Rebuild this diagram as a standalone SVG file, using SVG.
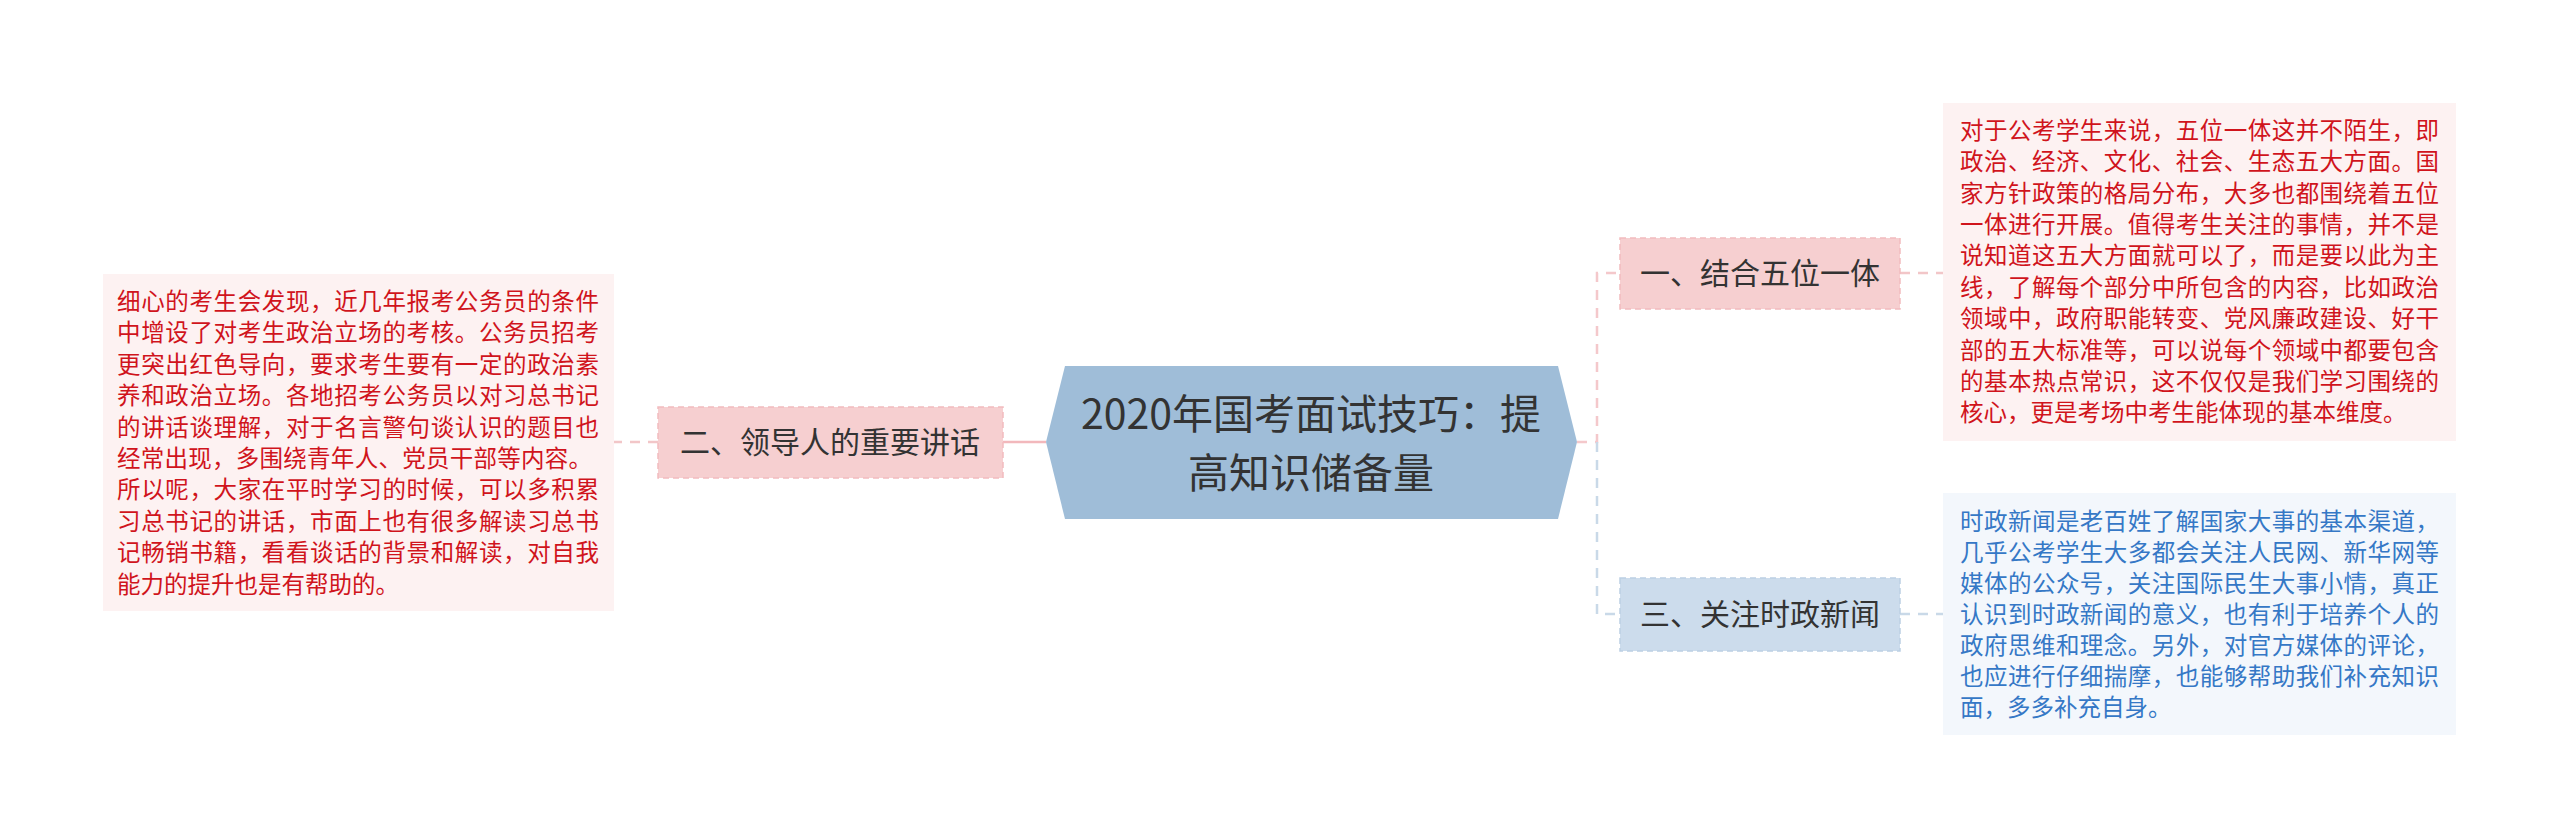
<svg xmlns="http://www.w3.org/2000/svg" width="2560" height="839" viewBox="0 0 2560 839">
<style>
.t{font-family:"Noto Sans CJK SC","Liberation Sans",sans-serif;}
.main{font-size:41px;fill:#333;text-anchor:middle}
.sub{font-size:30px;fill:#333;text-anchor:middle}
.red{font-size:23.5px;fill:#d0141c}
.blue{font-size:23.5px;fill:#3578c6}
</style>
<rect width="2560" height="839" fill="#fff"/>
<g id="connectors" fill="none" stroke-width="2.5">
<path d="M1046 442 H1003" stroke="#f2b8bc"/>
<path d="M658 442 H614" stroke="#f2c6c8" stroke-dasharray="10 8"/>
<path d="M1577 442 H1597 V273 H1620" stroke="#f4c8cb" stroke-dasharray="10 8"/>
<path d="M1597 442 V614 H1620" stroke="#c9d9e8" stroke-dasharray="10 8"/>
<path d="M1900 273 H1943" stroke="#f2c6c8" stroke-dasharray="10 8"/>
<path d="M1900 614 H1943" stroke="#c9d9e8" stroke-dasharray="10 8"/>
</g>
<g id="center">
<polygon points="1046,442 1065,366 1558,366 1577,442 1558,519 1065,519" fill="#9fbdd8"/>
<text class="t main" x="1311" y="429">2020年国考面试技巧：提</text>
<text class="t main" x="1311" y="488">高知识储备量</text>
</g>
<g id="n1">
<rect x="1620" y="238" width="280" height="71" fill="#f6cfd0" stroke="#f2bcbf" stroke-dasharray="6 4" stroke-width="1.5"/>
<text class="t sub" x="1760" y="284">一、结合五位一体</text>
</g>
<g id="n3">
<rect x="1620" y="578" width="280" height="73" fill="#ccdcec" stroke="#bcd0e4" stroke-dasharray="6 4" stroke-width="1.5"/>
<text class="t sub" x="1760" y="625">三、关注时政新闻</text>
</g>
<g id="n2">
<rect x="658" y="407" width="345" height="71" fill="#f6cfd0" stroke="#f2bcbf" stroke-dasharray="6 4" stroke-width="1.5"/>
<text class="t sub" x="830" y="453">二、领导人的重要讲话</text>
</g>
<g id="d1">
<rect x="1943" y="103" width="513" height="338" fill="#fdf2f2"/>
<text class="t red">
<tspan x="1960" y="139" textLength="479">对于公考学生来说，五位一体这并不陌生，即</tspan>
<tspan x="1960" y="170" textLength="479">政治、经济、文化、社会、生态五大方面。国</tspan>
<tspan x="1960" y="202" textLength="479">家方针政策的格局分布，大多也都围绕着五位</tspan>
<tspan x="1960" y="233" textLength="479">一体进行开展。值得考生关注的事情，并不是</tspan>
<tspan x="1960" y="264" textLength="479">说知道这五大方面就可以了，而是要以此为主</tspan>
<tspan x="1960" y="296" textLength="479">线，了解每个部分中所包含的内容，比如政治</tspan>
<tspan x="1960" y="327" textLength="479">领域中，政府职能转变、党风廉政建设、好干</tspan>
<tspan x="1960" y="359" textLength="479">部的五大标准等，可以说每个领域中都要包含</tspan>
<tspan x="1960" y="390" textLength="479">的基本热点常识，这不仅仅是我们学习围绕的</tspan>
<tspan x="1960" y="421">核心，更是考场中考生能体现的基本维度。</tspan>
</text>
</g>
<g id="d3">
<rect x="1943" y="493" width="513" height="242" fill="#f3f7fc"/>
<text class="t blue">
<tspan x="1960" y="530" textLength="479">时政新闻是老百姓了解国家大事的基本渠道，</tspan>
<tspan x="1960" y="561" textLength="479">几乎公考学生大多都会关注人民网、新华网等</tspan>
<tspan x="1960" y="592" textLength="479">媒体的公众号，关注国际民生大事小情，真正</tspan>
<tspan x="1960" y="623" textLength="479">认识到时政新闻的意义，也有利于培养个人的</tspan>
<tspan x="1960" y="654" textLength="479">政府思维和理念。另外，对官方媒体的评论，</tspan>
<tspan x="1960" y="685" textLength="479">也应进行仔细揣摩，也能够帮助我们补充知识</tspan>
<tspan x="1960" y="716">面，多多补充自身。</tspan>
</text>
</g>
<g id="d2">
<rect x="103" y="274" width="511" height="337" fill="#fdf2f2"/>
<text class="t red">
<tspan x="117" y="310" textLength="482">细心的考生会发现，近几年报考公务员的条件</tspan>
<tspan x="117" y="341" textLength="482">中增设了对考生政治立场的考核。公务员招考</tspan>
<tspan x="117" y="373" textLength="482">更突出红色导向，要求考生要有一定的政治素</tspan>
<tspan x="117" y="404" textLength="482">养和政治立场。各地招考公务员以对习总书记</tspan>
<tspan x="117" y="436" textLength="482">的讲话谈理解，对于名言警句谈认识的题目也</tspan>
<tspan x="117" y="467" textLength="475">经常出现，多围绕青年人、党员干部等内容。</tspan>
<tspan x="117" y="498" textLength="482">所以呢，大家在平时学习的时候，可以多积累</tspan>
<tspan x="117" y="530" textLength="482">习总书记的讲话，市面上也有很多解读习总书</tspan>
<tspan x="117" y="561" textLength="482">记畅销书籍，看看谈话的背景和解读，对自我</tspan>
<tspan x="117" y="593">能力的提升也是有帮助的。</tspan>
</text>
</g>
</svg>
